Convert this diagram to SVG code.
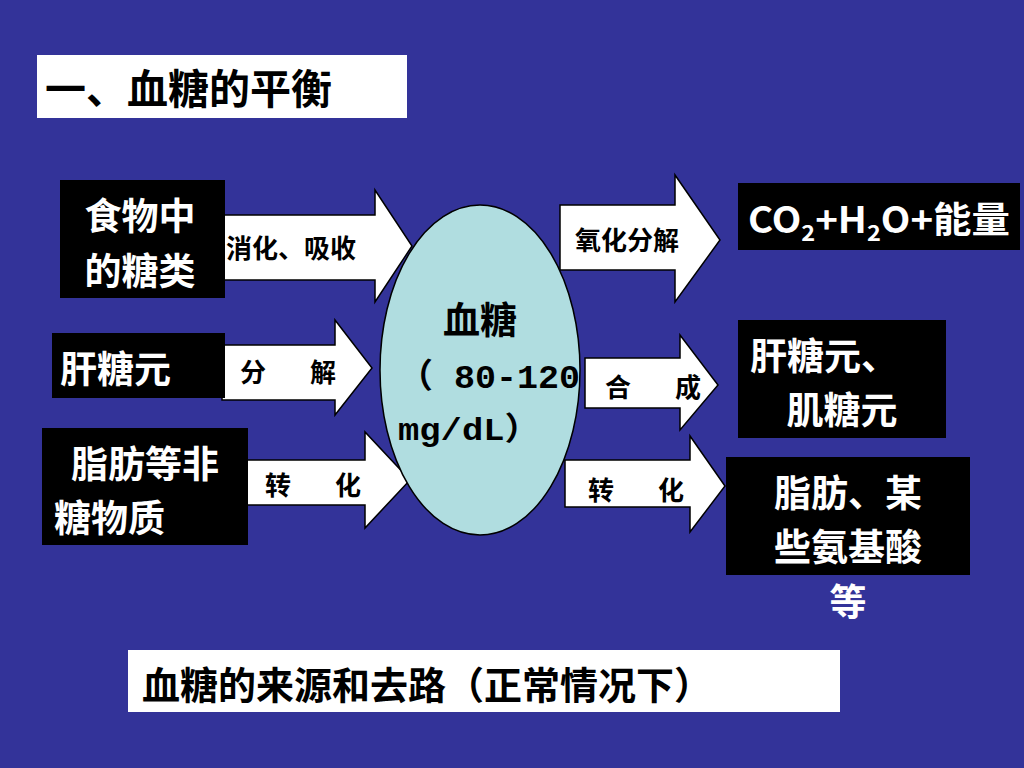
<svg xmlns="http://www.w3.org/2000/svg" width="1024" height="768" viewBox="0 0 1024 768">
<style>
text{font-family:"Noto Sans CJK SC","Liberation Sans",sans-serif;font-weight:bold}
.w{fill:#fff}.k{fill:#000}
.arr{fill:#fff;stroke:#000;stroke-width:1.5}
.t32{font-size:37px}.t24{font-size:26px}
.mono{font-family:"Liberation Mono","Noto Sans CJK SC",monospace}
</style>
<rect width="1024" height="768" fill="#333399"/>
<g id="title"><rect x="37" y="55" width="370" height="63" fill="#fff"/><text x="45" y="104" class="k" font-size="41">一、血糖的平衡</text></g>
<g id="connectors">
<path class="arr" d="M222,215H375V190L412,246L375,302V280H222Z"/>
<path class="arr" d="M222,345H335V320L372,368L335,415V400H222Z"/>
<path class="arr" d="M246,460H365V432L410,480L365,528V505H246Z"/>
<path class="arr" d="M560,205H675V175L720,240L675,302V270H560Z"/>
<path class="arr" d="M585,358H680V335L718,385L680,430V408H585Z"/>
<path class="arr" d="M565,460H690V436L725,486L690,532V507H565Z"/>
<text x="226" y="258" class="k t24">消化、吸收</text>
<text x="240" y="382" class="k t24">分<tspan x="310">解</tspan></text>
<text x="265" y="495" class="k t24">转<tspan x="335">化</tspan></text>
<text x="575" y="250" class="k t24">氧化分解</text>
<text x="605" y="397" class="k t24">合<tspan x="675">成</tspan></text>
<text x="588" y="500" class="k t24">转<tspan x="658">化</tspan></text>
</g>
<g id="blood"><ellipse cx="480" cy="370" rx="100" ry="165" fill="#b0dde0" stroke="#000" stroke-width="1.5"/>
<text x="480" y="334" class="k t32" text-anchor="middle">血糖</text>
<text x="398" y="388" class="k mono" font-size="34" textLength="182" lengthAdjust="spacingAndGlyphs">（ 80-120</text>
<text x="398" y="440" class="k mono" font-size="32" textLength="142" lengthAdjust="spacingAndGlyphs">mg/dL）</text></g>
<g id="food"><rect x="60" y="180" width="165" height="118" fill="#000"/><text x="140" y="230" class="w t32" text-anchor="middle">食物中</text><text x="140" y="285" class="w t32" text-anchor="middle">的糖类</text></g>
<g id="glycogen"><rect x="52" y="333" width="173" height="65" fill="#000"/><text x="60" y="383" class="w t32">肝糖元</text></g>
<g id="fat"><rect x="42" y="428" width="206" height="117" fill="#000"/><text x="145" y="478" class="w t32" text-anchor="middle">脂肪等非</text><text x="54" y="532" class="w t32">糖物质</text></g>
<g id="co2"><rect x="738" y="183" width="282" height="67" fill="#000"/><text x="748" y="233" class="w" font-size="36" textLength="262" lengthAdjust="spacingAndGlyphs">CO<tspan font-size="22" dy="8">2</tspan><tspan dy="-8">+H</tspan><tspan font-size="22" dy="8">2</tspan><tspan dy="-8">O+能量</tspan></text></g>
<g id="store"><rect x="738" y="320" width="208" height="118" fill="#000"/><text x="750" y="370" class="w t32">肝糖元、</text><text x="842" y="424" class="w t32" text-anchor="middle">肌糖元</text></g>
<g id="fatout"><rect x="726" y="457" width="244" height="118" fill="#000"/><text x="848" y="507" class="w t32" text-anchor="middle">脂肪、某</text><text x="848" y="561" class="w t32" text-anchor="middle">些氨基酸</text><text x="848" y="616" class="w t32" text-anchor="middle">等</text></g>
<g id="caption"><rect x="128" y="650" width="712" height="62" fill="#fff"/><text x="142" y="699" class="k" font-size="38">血糖的来源和去路（正常情况下）</text></g>
</svg>
